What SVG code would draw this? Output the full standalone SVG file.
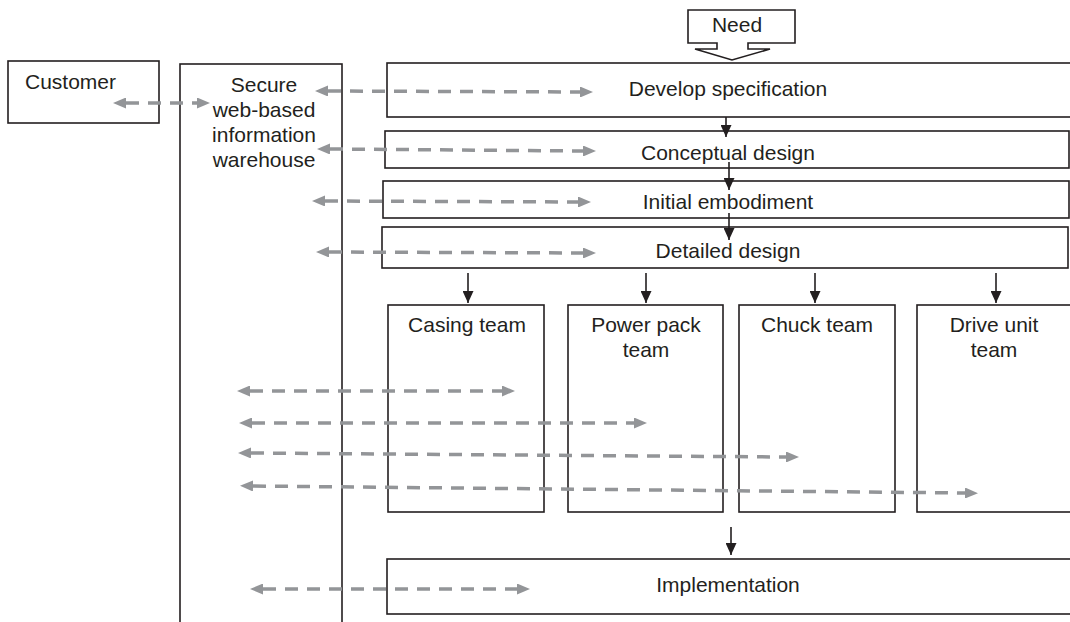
<svg xmlns="http://www.w3.org/2000/svg" width="1070" height="622" viewBox="0 0 1070 622">
  <style>
    .box { fill: #ffffff; stroke: #231f20; stroke-width: 1.6; }
    .lbl { font-family: "Liberation Sans", Arial, Helvetica, sans-serif; font-size: 21px; fill: #231f20; text-anchor: middle; }
    .lbl.start { text-anchor: start; }
    .flow { stroke: #231f20; stroke-width: 1.6; fill: none; marker-end: url(#blackHead); }
    .link { stroke: #939598; stroke-width: 3.5; stroke-dasharray: 13 9; fill: none; marker-start: url(#grayHead); marker-end: url(#grayHead); }
  </style>
  <defs>
    <marker id="blackHead" markerUnits="userSpaceOnUse" markerWidth="12" markerHeight="11" viewBox="0 0 12 11" refX="12" refY="5.5" orient="auto">
      <path d="M0,0 L12,5.5 L0,11 Z" fill="#231f20"/>
    </marker>
    <marker id="grayHead" markerUnits="userSpaceOnUse" markerWidth="13" markerHeight="11" viewBox="0 0 13 11" refX="0" refY="5.5" orient="auto-start-reverse">
      <path d="M0,0 L13,5.5 L0,11 Z" fill="#939598"/>
    </marker>
  </defs>

  <rect width="1070" height="622" fill="#ffffff"/>

  <!-- Need: block with a downward arrow -->
  <g id="need">
    <path class="box" d="M688,10 H795 V43 H748 V49 H770 L732,60 L695,49 H717 V43 H688 Z"/>
    <text class="lbl" x="737" y="32">Need</text>
  </g>

  <g id="customer">
    <rect class="box" x="8" y="61" width="151" height="62" stroke-width="2"/>
    <text class="lbl start" x="25" y="89">Customer</text>
  </g>

  <g id="warehouse">
    <rect class="box" x="180" y="64" width="162" height="570" stroke-width="2"/>
    <text class="lbl" x="264" y="92">Secure</text>
    <text class="lbl" x="264" y="117">web-based</text>
    <text class="lbl" x="264" y="142">information</text>
    <text class="lbl" x="264" y="167">warehouse</text>
  </g>

  <g id="develop-spec">
    <rect class="box" x="387" y="63" width="690" height="54" stroke-width="2"/>
    <text class="lbl" x="728" y="96">Develop specification</text>
  </g>

  <g id="conceptual-design">
    <rect class="box" x="385" y="131" width="684" height="37"/>
    <text class="lbl" x="728" y="160">Conceptual design</text>
  </g>

  <g id="initial-embodiment">
    <rect class="box" x="383" y="181" width="686" height="37"/>
    <text class="lbl" x="728" y="209">Initial embodiment</text>
  </g>

  <g id="detailed-design">
    <rect class="box" x="382" y="227" width="686" height="41"/>
    <text class="lbl" x="728" y="258">Detailed design</text>
  </g>

  <g id="casing-team">
    <rect class="box" x="388" y="305" width="156" height="207" stroke-width="1.3"/>
    <text class="lbl" x="467" y="332">Casing team</text>
  </g>

  <g id="power-pack-team">
    <rect class="box" x="568" y="305" width="155" height="207" stroke-width="1.3"/>
    <text class="lbl" x="646" y="332">Power pack</text>
    <text class="lbl" x="646" y="357">team</text>
  </g>

  <g id="chuck-team">
    <rect class="box" x="739" y="305" width="156" height="207" stroke-width="1.3"/>
    <text class="lbl" x="817" y="332">Chuck team</text>
  </g>

  <g id="drive-unit-team">
    <rect class="box" x="917" y="305" width="160" height="207" stroke-width="1.3"/>
    <text class="lbl" x="994" y="332">Drive unit</text>
    <text class="lbl" x="994" y="357">team</text>
  </g>

  <g id="implementation">
    <rect class="box" x="387" y="559" width="690" height="55" stroke-width="1.3"/>
    <text class="lbl" x="728" y="592">Implementation</text>
  </g>

  <!-- connectors -->
  <g id="connectors">
    <!-- process flow -->
    <line class="flow" x1="726" y1="117" x2="726" y2="137"/>
    <line class="flow" x1="729" y1="162" x2="729" y2="190"/>
    <line class="flow" x1="729" y1="213" x2="729" y2="240"/>
    <line class="flow" x1="468" y1="273" x2="468" y2="303"/>
    <line class="flow" x1="646" y1="273" x2="646" y2="303"/>
    <line class="flow" x1="815" y1="273" x2="815" y2="303"/>
    <line class="flow" x1="996" y1="273" x2="996" y2="303"/>
    <line class="flow" x1="731" y1="527" x2="731" y2="555"/>

    <!-- two-way information exchange with the warehouse -->
    <line class="link" x1="126" y1="103" x2="197" y2="103"/>
    <line class="link" x1="328" y1="91" x2="580" y2="92"/>
    <line class="link" x1="330" y1="149" x2="583" y2="151"/>
    <line class="link" x1="325" y1="201" x2="578" y2="202"/>
    <line class="link" x1="329" y1="252" x2="583" y2="253"/>
    <line class="link" x1="250" y1="391" x2="502" y2="391"/>
    <line class="link" x1="252" y1="423" x2="634" y2="423"/>
    <line class="link" x1="251" y1="453" x2="786" y2="457"/>
    <line class="link" x1="253" y1="486" x2="965" y2="493"/>
    <line class="link" x1="263" y1="589" x2="517" y2="589"/>
  </g>
</svg>
